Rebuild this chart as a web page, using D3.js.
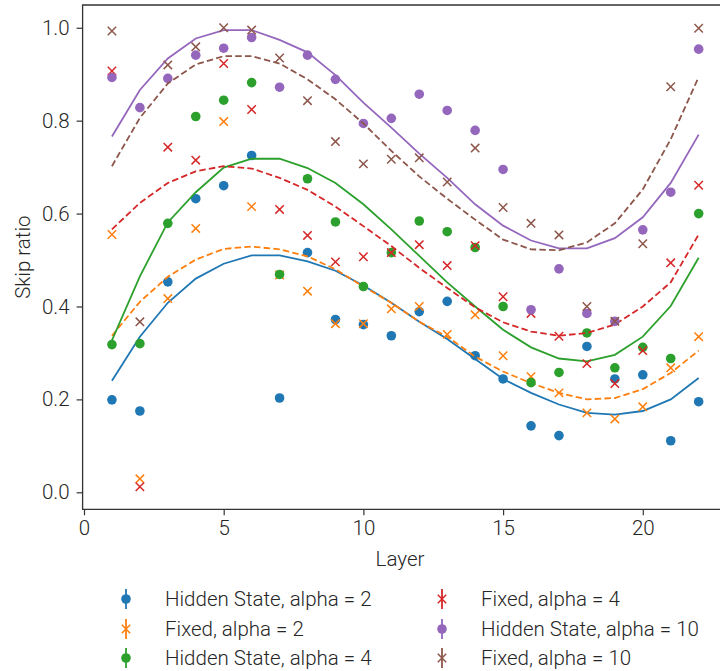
<!DOCTYPE html>
<html>
<head>
<meta charset="utf-8">
<script src="https://cdn.jsdelivr.net/npm/d3@7"></script>
<style>
  html, body { margin: 0; padding: 0; background: #fff; }
  svg { display: block; }
  text { font-family: Roboto, "Noto Sans", sans-serif; font-weight: 300; fill: #262626; }
</style>
</head>
<body>
<svg id="chart" width="720" height="671"></svg>
<script>
// Layers 1..22
const layers = d3.range(1, 23);

// Measured skip ratios (markers)
const hs2   = [0.199,0.175,0.453,0.632,0.660,0.725,0.203,0.516,0.372,0.361,0.337,0.389,0.411,0.294,0.244,0.143,0.122,0.314,0.244,0.253,0.111,0.195];
const fx2   = [0.555,0.029,0.417,0.568,0.798,0.615,0.468,0.433,0.363,0.363,0.395,0.400,0.340,0.382,0.294,0.249,0.214,0.171,0.158,0.184,0.268,0.335];
const hs4   = [0.318,0.320,0.579,0.809,0.844,0.882,0.469,0.675,0.582,0.443,0.516,0.584,0.561,0.527,0.400,0.236,0.258,0.343,0.268,0.312,0.288,0.600];
const fx4   = [0.907,0.012,0.743,0.715,0.923,0.824,0.609,0.553,0.496,0.507,0.516,0.533,0.488,0.531,0.421,0.385,0.336,0.277,0.234,0.305,0.494,0.661];
const hs10  = [0.893,0.828,0.891,0.941,0.956,0.979,0.872,0.941,0.889,0.794,0.805,0.857,0.822,0.779,0.695,0.393,0.481,0.385,0.368,0.565,0.646,0.954];
const fx10  = [0.993,0.367,0.920,0.959,1.000,0.995,0.935,0.843,0.755,0.707,0.717,0.720,0.668,0.741,0.613,0.579,0.554,0.400,0.368,0.535,0.873,0.999];

// Fitted trend per layer (lines)
const hs2Fit  = [0.240,0.335,0.408,0.460,0.492,0.510,0.510,0.497,0.477,0.445,0.408,0.367,0.330,0.287,0.244,0.214,0.189,0.171,0.167,0.175,0.200,0.246];
const fx2Fit  = [0.337,0.410,0.464,0.501,0.524,0.529,0.523,0.508,0.480,0.443,0.408,0.367,0.335,0.292,0.260,0.235,0.214,0.200,0.203,0.222,0.257,0.305];
const hs4Fit  = [0.327,0.465,0.581,0.646,0.699,0.718,0.718,0.698,0.666,0.620,0.566,0.509,0.452,0.400,0.350,0.312,0.288,0.282,0.296,0.335,0.401,0.505];
const fx4Fit  = [0.566,0.623,0.666,0.691,0.702,0.697,0.677,0.651,0.615,0.573,0.530,0.483,0.440,0.398,0.366,0.346,0.337,0.343,0.361,0.400,0.452,0.555];
const hs10Fit = [0.766,0.866,0.934,0.977,0.995,0.995,0.974,0.947,0.898,0.839,0.785,0.729,0.677,0.620,0.574,0.542,0.525,0.525,0.547,0.592,0.666,0.770];
const fx10Fit = [0.702,0.806,0.880,0.921,0.939,0.939,0.923,0.889,0.846,0.794,0.735,0.680,0.632,0.587,0.544,0.523,0.521,0.538,0.579,0.652,0.760,0.894];

const seriesNames = [
  "Hidden State, alpha = 2", "Fixed, alpha = 2",
  "Hidden State, alpha = 4", "Fixed, alpha = 4",
  "Hidden State, alpha = 10", "Fixed, alpha = 10"
];
const colors = ["#1f77b4", "#ff7f0e", "#2ca02c", "#d62728", "#9467bd", "#8c564b"];
const xTicks = [0, 5, 10, 15, 20];
const yTicks = [0.0, 0.2, 0.4, 0.6, 0.8, 1.0];

const series = [
  { name: seriesNames[0], values: hs2,  fit: hs2Fit,  color: colors[0], marker: "dot",   dashed: false },
  { name: seriesNames[1], values: fx2,  fit: fx2Fit,  color: colors[1], marker: "cross", dashed: true  },
  { name: seriesNames[2], values: hs4,  fit: hs4Fit,  color: colors[2], marker: "dot",   dashed: false },
  { name: seriesNames[3], values: fx4,  fit: fx4Fit,  color: colors[3], marker: "cross", dashed: true  },
  { name: seriesNames[4], values: hs10, fit: hs10Fit, color: colors[4], marker: "dot",   dashed: false },
  { name: seriesNames[5], values: fx10, fit: fx10Fit, color: colors[5], marker: "cross", dashed: true  }
];

const svg = d3.select("#chart");
const plotLeft = 82.6, plotRight = 728, plotTop = 5, plotBottom = 509.3;

const x = d3.scaleLinear().domain([-0.05, 23.05]).range([plotLeft, plotRight]);
const y = d3.scaleLinear().domain([-0.0366, 1.049]).range([plotBottom, plotTop]);

const axisColor = "#333";
const fontSize = 20.5;

// Axes
const gx = svg.append("g").attr("transform", `translate(0,${plotBottom})`)
  .call(d3.axisBottom(x).tickValues(xTicks).tickSize(6).tickPadding(5).tickSizeOuter(0));
gx.select(".domain").remove();
gx.selectAll(".tick line").attr("stroke", axisColor).attr("stroke-width", 1.2);
gx.selectAll(".tick text").attr("font-size", fontSize).style("fill", "#262626");

const gy = svg.append("g").attr("transform", `translate(${plotLeft},0)`)
  .call(d3.axisLeft(y).tickValues(yTicks).tickFormat(d3.format(".1f")).tickSize(6).tickPadding(7).tickSizeOuter(0));
gy.select(".domain").remove();
gy.selectAll(".tick line").attr("stroke", axisColor).attr("stroke-width", 1.2);
gy.selectAll(".tick text").attr("font-size", fontSize).style("fill", "#262626");

// Spines (left, bottom, top; right edge lies beyond the canvas)
svg.append("path")
  .attr("d", `M${plotRight},${plotTop}H${plotLeft}V${plotBottom}H${plotRight}`)
  .attr("fill", "none").attr("stroke", axisColor).attr("stroke-width", 1.3);

// Axis titles
svg.append("text").attr("x", 400).attr("y", 566).attr("text-anchor", "middle")
  .attr("font-size", fontSize).text("Layer");
svg.append("text").attr("transform", `translate(30,${(plotTop + plotBottom) / 2}) rotate(-90)`)
  .attr("text-anchor", "middle").attr("font-size", fontSize).text("Skip ratio");

const plot = svg.append("g");
const line = d3.line().x((d, i) => x(layers[i])).y(d => y(d));

function drawMarker(g, kind, cx, cy, color) {
  if (kind === "dot") {
    g.append("circle").attr("cx", cx).attr("cy", cy).attr("r", 4.8).attr("fill", color);
  } else {
    const s = 4.2;
    g.append("path")
      .attr("d", `M${cx - s},${cy - s}L${cx + s},${cy + s}M${cx - s},${cy + s}L${cx + s},${cy - s}`)
      .attr("stroke", color).attr("stroke-width", 1.5).attr("fill", "none");
  }
}

series.forEach(s => {
  plot.append("path").datum(s.fit).attr("d", line)
    .attr("fill", "none").attr("stroke", s.color).attr("stroke-width", 1.8)
    .attr("stroke-dasharray", s.dashed ? "6.5,3.2" : null);
  const g = plot.append("g");
  s.values.forEach((v, i) => drawMarker(g, s.marker, x(layers[i]), y(v), s.color));
});

// Legend: two columns, three rows
const legend = svg.append("g");
const colX = [126, 442], rowY = [599, 629, 658];
series.forEach((s, i) => {
  const col = Math.floor(i / 3), row = i % 3;
  const mx = colX[col], my = rowY[row];
  const g = legend.append("g");
  g.append("line").attr("x1", mx).attr("x2", mx).attr("y1", my - 10).attr("y2", my + 10)
    .attr("stroke", s.color).attr("stroke-width", 1.8);
  drawMarker(g, s.marker, mx, my, s.color);
  g.append("text").attr("x", mx + 39).attr("y", my + 7).attr("font-size", fontSize).text(s.name);
});
</script>
</body>
</html>
